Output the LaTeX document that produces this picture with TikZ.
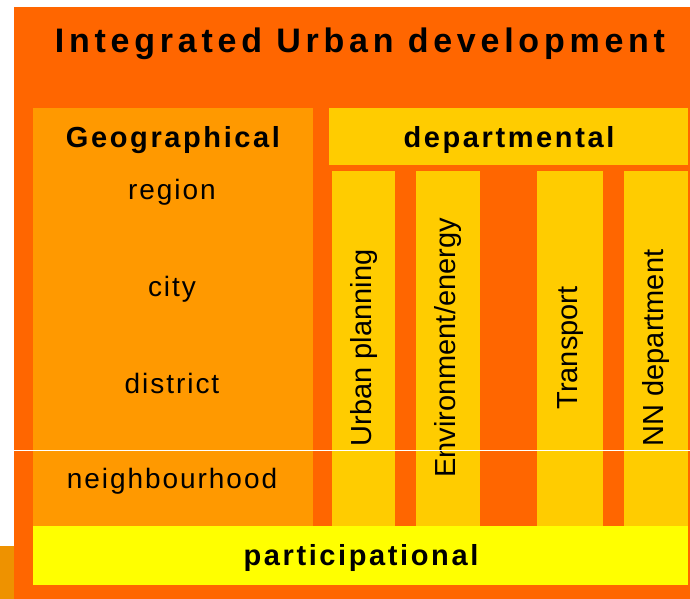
\documentclass[tikz,border=0pt]{standalone}
\usepackage{fontspec}
\setmainfont{Liberation Sans}
\newfontfamily\titlefont[LetterSpace=14]{Liberation Sans}
\newfontfamily\headfont[LetterSpace=9]{Liberation Sans}
\newfontfamily\levelfont[LetterSpace=7]{Liberation Sans}

\definecolor{urbanred}{HTML}{FF6600}
\definecolor{geoorange}{HTML}{FF9900}
\definecolor{deptyellow}{HTML}{FFCC00}
\definecolor{partyellow}{HTML}{FFFF00}
\definecolor{edgeorange}{HTML}{EE9200}

\begin{document}
\begin{tikzpicture}[x=1pt,y=-1pt,
    head/.style={font=\headfont\bfseries\fontsize{29}{34}\selectfont,anchor=base,inner sep=0pt},
    level/.style={font=\levelfont\fontsize{28}{33}\selectfont,anchor=base,inner sep=0pt},
    sector/.style={font=\fontsize{29}{34}\selectfont,rotate=90,inner sep=0pt}]
    \useasboundingbox (0,0) rectangle (690,599);
    % frame and blocks
    \fill[urbanred] (14,7) rectangle (690,599);
    \fill[edgeorange] (0,546) rectangle (14,599);
    \fill[geoorange] (33,108) rectangle (313,526);
    \fill[deptyellow] (329,108) rectangle (688,165);
    \foreach \l/\r in {332/395,416/480,537/603,624/688}
    \fill[deptyellow] (\l,171) rectangle (\r,526);
    \fill[partyellow] (33,526) rectangle (688,585);
    % texts
    \node[anchor=base,inner sep=0pt,font=\titlefont\bfseries\fontsize{34}{40}\selectfont] (title) at (360,53) {Integrated Urban development};
    \node[head] (geo) at (173,147) {Geographical};
    \node[head] (dept) at (509,147) {departmental};
    \node[head] (part) at (361,565) {participational};
    \node[level] (region) at (172,199) {region};
    \node[level] (city) at (172,296) {city};
    \node[level] (district) at (172,393) {district};
    \node[level] (neighbourhood) at (172,488) {neighbourhood};
    \foreach \x/\t [count=\i] in {364/{Urban planning},448/{Environment/energy},571/{Transport},656/{NN department}}
    \node[sector] (sector\i) at (\x,348) {\t};
    \draw[white,line width=1pt] (14,450) -- (690,450);
\end{tikzpicture}
\end{document}
